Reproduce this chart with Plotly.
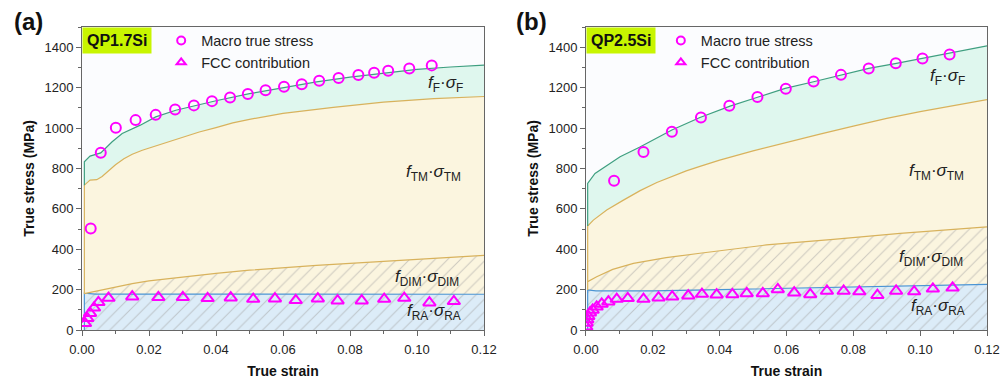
import plotly.graph_objects as go

# ---------------- Panel (a) QP1.7Si ----------------
strain_RA_a = [0.0007, 0.0007, 0.004, 0.04, 0.08, 0.12]
stress_RA_a = [0, 182, 178, 177, 177, 177]

strain_DIM_a = [0.0007, 0.005, 0.010, 0.015, 0.020, 0.030, 0.040, 0.050, 0.060, 0.070, 0.080, 0.090, 0.100, 0.110, 0.120]
stress_DIM_a = [180, 195, 214, 230, 243, 262, 280, 296, 309, 320, 330, 340, 351, 360, 369]

strain_TM_a = [0.0007, 0.0007, 0.0024, 0.0044, 0.006, 0.008, 0.010, 0.0125, 0.015, 0.018, 0.022, 0.026, 0.030,
               0.035, 0.040, 0.045, 0.050, 0.060, 0.075, 0.090, 0.105, 0.120]
stress_TM_a = [180, 717, 742, 744, 760, 790, 818, 848, 870, 890, 912, 934, 955,
               980, 1002, 1025, 1043, 1072, 1102, 1128, 1145, 1156]

strain_F_a = [0.0007, 0.0007, 0.0024, 0.0044, 0.0056, 0.009, 0.012, 0.0174, 0.022, 0.028, 0.034, 0.040, 0.050,
              0.060, 0.070, 0.080, 0.090, 0.100, 0.110, 0.120]
stress_F_a = [717, 833, 861, 871, 877, 932, 973, 1014, 1055, 1088, 1112, 1135, 1170,
              1200, 1228, 1252, 1272, 1290, 1302, 1311]

macro_strain_a = [0.0026, 0.0056, 0.0101, 0.0160, 0.0220, 0.0278, 0.0334, 0.0388, 0.0442, 0.0495, 0.0548, 0.0603,
                  0.0656, 0.0708, 0.0766, 0.0825, 0.0872, 0.0914, 0.0977, 0.1044]
macro_stress_a = [503, 877, 1001, 1039, 1065, 1092, 1112, 1133, 1151, 1168, 1187, 1204,
                  1217, 1234, 1247, 1262, 1273, 1283, 1295, 1310]

fcc_strain_a = [0.0009, 0.0016, 0.0024, 0.0036, 0.0049, 0.0079, 0.0150, 0.0228, 0.0301, 0.0375, 0.0444,
                0.0511, 0.0576, 0.0638, 0.0704, 0.0763, 0.0835, 0.0902, 0.0962, 0.1037, 0.1110]
fcc_stress_a = [33, 58, 83, 110, 137, 158, 165, 162, 162, 157, 160,
                153, 155, 147, 155, 145, 145, 153, 158, 135, 142]

# ---------------- Panel (b) QP2.5Si ----------------
strain_RA_b = [0.0005, 0.0005, 0.003, 0.02, 0.04, 0.06, 0.08, 0.10, 0.12]
stress_RA_b = [0, 198, 194, 194, 200, 207, 214, 220, 226]

strain_DIM_b = [0.0005, 0.0005, 0.0032, 0.008, 0.0142, 0.024, 0.0341, 0.054, 0.074, 0.094, 0.120]
stress_DIM_b = [198, 239, 264, 300, 330, 358, 380, 421, 449, 478, 511]

strain_TM_b = [0.0005, 0.0005, 0.0022, 0.0062, 0.0112, 0.0162, 0.0212, 0.026, 0.030, 0.0341, 0.040, 0.050, 0.060,
               0.070, 0.080, 0.090, 0.100, 0.110, 0.120]
stress_TM_b = [239, 515, 544, 594, 643, 690, 730, 762, 788, 810, 841, 887, 930,
               970, 1009, 1048, 1081, 1112, 1141]

strain_F_b = [0.0005, 0.0005, 0.0027, 0.0057, 0.0102, 0.0160, 0.0257, 0.0341, 0.0431, 0.0511, 0.0596, 0.0681,
              0.0761, 0.0846, 0.0925, 0.1005, 0.1085, 0.120]
stress_F_b = [515, 726, 775, 808, 858, 905, 990, 1052, 1108, 1151, 1196, 1229,
              1262, 1295, 1319, 1344, 1369, 1407]

macro_strain_b = [0.0084, 0.0172, 0.0257, 0.0344, 0.0429, 0.0513, 0.0598, 0.0681, 0.0763, 0.0846, 0.0927, 0.1007, 0.1088]
macro_stress_b = [739, 881, 981, 1052, 1110, 1154, 1194, 1230, 1263, 1295, 1320, 1344, 1364]

fcc_strain_b = [0.0001, 0.0002, 0.0004, 0.0007, 0.0012, 0.0020, 0.0032, 0.0047, 0.0067, 0.0092, 0.0125, 0.0172,
                0.0217, 0.0258, 0.0306, 0.0347, 0.0391, 0.0438, 0.0481, 0.0529, 0.0574, 0.0623, 0.0671,
                0.0721, 0.0771, 0.0818, 0.0872, 0.0928, 0.0982, 0.1038, 0.1097]
fcc_stress_b = [16, 35, 52, 68, 86, 99, 115, 129, 140, 153, 157, 153,
                160, 165, 170, 178, 175, 176, 181, 181, 201, 185, 176,
                193, 193, 190, 172, 193, 190, 204, 209]

# ---------------- Tick labels / texts ----------------
x_ticks = [0.00, 0.02, 0.04, 0.06, 0.08, 0.10, 0.12]
y_ticks = [0, 200, 400, 600, 800, 1000, 1200, 1400]
sample_names = ["QP1.7Si", "QP2.5Si"]
panel_tags = ["(a)", "(b)"]

# label positions (text anchors, data coords)
label_pos_a = {"F": (0.1084, 1217), "TM": (0.1048, 777), "DIM": (0.1031, 257), "RA": (0.1051, 89)}
label_pos_b = {"F": (0.1083, 1252), "TM": (0.1048, 782), "DIM": (0.1032, 356), "RA": (0.1054, 114)}

# ---------------- Styles ----------------
FONT = "Liberation Sans, Arial, sans-serif"
C_GREEN, F_GREEN = "#3f9f80", "#dff7ee"
C_GOLD, F_GOLD = "#d8b25c", "#fbf5df"
C_BLUE, F_BLUE = "#4a94d4", "#dcecf8"
MAG = "#ff00ff"
HATCH = dict(shape="/", fgcolor="#a0a0a0", size=9, solidity=0.12)

fig = go.Figure()


def add_panel(xa, ya, sRA, vRA, sDIM, vDIM, sTM, vTM, sF, vF, ms, mv, fs, fv, leg):
    fig.add_trace(go.Scatter(x=sRA, y=vRA, mode="lines", line=dict(color=C_BLUE, width=1.2),
                             fill="tozeroy", fillcolor=F_BLUE,
                             fillpattern=dict(bgcolor=F_BLUE, **HATCH),
                             xaxis=xa, yaxis=ya, showlegend=False, hoverinfo="skip"))
    fig.add_trace(go.Scatter(x=sDIM, y=vDIM, mode="lines", line=dict(color=C_GOLD, width=1.2),
                             fill="tonexty", fillcolor=F_GOLD,
                             fillpattern=dict(bgcolor=F_GOLD, **HATCH),
                             xaxis=xa, yaxis=ya, showlegend=False, hoverinfo="skip"))
    fig.add_trace(go.Scatter(x=sTM, y=vTM, mode="lines", line=dict(color=C_GOLD, width=1.2),
                             fill="tonexty", fillcolor=F_GOLD,
                             xaxis=xa, yaxis=ya, showlegend=False, hoverinfo="skip"))
    fig.add_trace(go.Scatter(x=sF, y=vF, mode="lines", line=dict(color=C_GREEN, width=1.2),
                             fill="tonexty", fillcolor=F_GREEN,
                             xaxis=xa, yaxis=ya, showlegend=False, hoverinfo="skip"))
    fig.add_trace(go.Scatter(x=ms, y=mv, mode="markers",
                             marker=dict(symbol="circle-open", size=10, color=MAG, line=dict(width=2, color=MAG)),
                             xaxis=xa, yaxis=ya, showlegend=False))
    fig.add_trace(go.Scatter(x=fs, y=fv, mode="markers",
                             marker=dict(symbol="triangle-up-open", size=11, color=MAG, line=dict(width=2, color=MAG)),
                             xaxis=xa, yaxis=ya, showlegend=False))
    # legend-only entries
    fig.add_trace(go.Scatter(x=[None], y=[None], mode="markers", name="Macro true stress",
                             marker=dict(symbol="circle-open", size=8, color=MAG, line=dict(width=2, color=MAG)),
                             xaxis=xa, yaxis=ya, legend=leg))
    fig.add_trace(go.Scatter(x=[None], y=[None], mode="markers", name="FCC contribution",
                             marker=dict(symbol="triangle-up-open", size=8, color=MAG, line=dict(width=2, color=MAG)),
                             xaxis=xa, yaxis=ya, legend=leg))


add_panel("x", "y", strain_RA_a, stress_RA_a, strain_DIM_a, stress_DIM_a, strain_TM_a, stress_TM_a,
          strain_F_a, stress_F_a, macro_strain_a, macro_stress_a, fcc_strain_a, fcc_stress_a, "legend")
add_panel("x2", "y2", strain_RA_b, stress_RA_b, strain_DIM_b, stress_DIM_b, strain_TM_b, stress_TM_b,
          strain_F_b, stress_F_b, macro_strain_b, macro_stress_b, fcc_strain_b, fcc_stress_b, "legend2")

D1 = [0.0, 0.4442]
D2 = [0.5569, 1.0]

axis_common = dict(showline=True, linecolor="#666666", linewidth=1, mirror=True, automargin=False,
                   ticks="outside", ticklen=5, tickcolor="#666666", showgrid=False, zeroline=False,
                   tickfont=dict(family=FONT, size=13, color="#222222"))
xax = dict(axis_common, range=[0, 0.12], tickvals=x_ticks, tickformat=".2f", ticklabelstandoff=2,
           minor=dict(dtick=0.01, ticks="outside", ticklen=3, tickcolor="#666666"),
           title=dict(text="<b>True strain</b>", font=dict(family=FONT, size=14, color="#111111"), standoff=16))
yax = dict(axis_common, range=[0, 1500], tickvals=y_ticks,
           minor=dict(dtick=100, ticks="outside", ticklen=3, tickcolor="#666666"),
           title=dict(text="<b>True stress (MPa)</b>", font=dict(family=FONT, size=14, color="#111111"), standoff=6))

legend_style = dict(font=dict(family=FONT, size=14.5, color="#222222"), bgcolor="rgba(0,0,0,0)",
                    xanchor="left", yanchor="top", tracegroupgap=0, itemwidth=30, traceorder="normal")

# page body has an 8px offset; plot area spans page x 82..987, y 27..330
fig.update_layout(
    width=1000, height=371,
    margin=dict(l=74, r=21, t=19, b=49, autoexpand=False),
    paper_bgcolor="white", plot_bgcolor="#fbfcfe",
    font=dict(family=FONT, color="#222222"),
    xaxis=dict(xax, domain=D1, anchor="y"),
    yaxis=dict(yax, domain=[0, 1], anchor="x"),
    xaxis2=dict(xax, domain=D2, anchor="y2"),
    yaxis2=dict(yax, domain=[0, 1], anchor="x2"),
    legend=dict(legend_style, x=0.0875, y=1.008),
    legend2=dict(legend_style, x=0.6396, y=1.008),
)

annotations = []
for i, (dom, xr, yr, lp) in enumerate([(D1, "x", "y", label_pos_a), (D2, "x2", "y2", label_pos_b)]):
    px_left = 82 + dom[0] * 905
    annotations.append(dict(text="<b>%s</b>" % panel_tags[i], xref="paper", yref="paper",
                            x=(px_left - 54 - 82) / 905, y=1 - (22 - 27) / 303,
                            xanchor="center", yanchor="middle", showarrow=False,
                            font=dict(family=FONT, size=24, color="#111111")))
    annotations.append(dict(text="<b>%s</b>" % sample_names[i], xref="paper", yref="paper",
                            x=dom[0], y=1, xanchor="left", yanchor="top", showarrow=False,
                            bgcolor="#c8f500", borderpad=4,
                            font=dict(family=FONT, size=16, color="#111111")))
    for key, (lx, ly) in lp.items():
        annotations.append(dict(text="<i>f</i><sub>%s</sub>·<i>σ</i><sub>%s</sub>" % (key, key),
                                xref=xr, yref=yr, x=lx, y=ly, xanchor="center", yanchor="middle",
                                showarrow=False, font=dict(family=FONT, size=17, color="#222222")))
fig.update_layout(annotations=annotations)

fig.write_html("out.html")
